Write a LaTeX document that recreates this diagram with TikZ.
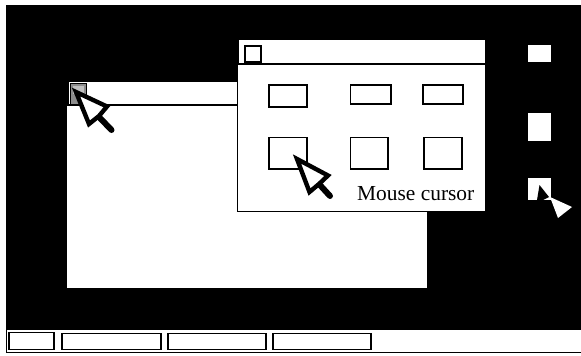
\documentclass[tikz,border=0pt]{standalone}
\usepackage{fontspec}
\setmainfont{Liberation Serif}
\tikzset{
 win/.style={fill=white,draw=black,line width=1pt},
 btn/.style={fill=white,draw=black,line width=1.3pt},
 barbtn/.style={fill=white,draw=black,line width=1.8pt},
 icon/.style={fill=white},
 cursorhead/.style={fill=white,draw=black,line width=4.4pt,line join=miter},
 cursortail/.style={draw=black,line width=6pt,line cap=round},
}
\begin{document}
\begin{tikzpicture}[x=1pt,y=-1pt]
\useasboundingbox (0,0) rectangle (581,356);
\fill[white] (0,0) rectangle (581,356);
% desktop
\fill[black] (6,5) rectangle (581,330);
% taskbar
\draw[black,line width=1pt] (6,352.5) -- (581,352.5);
\draw[black,line width=1pt] (6,330) -- (6,352.5);
\draw[barbtn] (9,332.5) rectangle (54,349.5);
\draw[barbtn] (62,333.5) rectangle (161,349.5);
\draw[barbtn] (168,333.5) rectangle (266,349.5);
\draw[barbtn] (273,333.5) rectangle (371,349.5);
% back window
\fill[white] (67,106) rectangle (427,288);
\fill[white] (69,82) rectangle (427,106);
\draw[black,line width=1.2pt] (68,105) -- (238,105);
\fill[black!45] (71,83) rectangle (86,104);
\fill[white!75!black] (73,86) rectangle (84,94);
\draw[black,line width=1pt] (70.5,83) rectangle (86.5,104);
% cursor on back window
\draw[cursortail] (100,118) -- (111.5,130);
\draw[cursorhead] (76,92) -- (107,106.5) -- (99,116) -- (89,124) -- cycle;
% front window
\fill[white] (239,40) rectangle (485,64);
\draw[win] (237.5,64.5) rectangle (485,211);
\draw[black,line width=1.6pt] (237.5,64) -- (485,64);
\draw[black,line width=2pt] (245,45.5) rectangle (260.5,61.5);
\draw[btn] (269,85) rectangle (307,107);
\draw[btn] (350.5,85) rectangle (391,104);
\draw[btn] (423,85) rectangle (463,104);
\draw[btn] (269,137.5) rectangle (307,169);
\draw[btn] (350.5,137.5) rectangle (388,169);
\draw[btn] (424,137.5) rectangle (462,169);
% cursor on front window
\draw[cursortail] (319,184) -- (330,196);
\draw[cursorhead] (297,159) -- (328,175.5) -- (319,184) -- (309.5,192) -- cycle;
\node[anchor=base west,inner sep=0pt,font=\fontsize{21.4}{23}\selectfont] (label) at (357,200.5) {Mouse cursor};
% icons
\fill[icon] (528,45) rectangle (551,62);
\fill[icon] (528,113) rectangle (551,141);
\fill[icon] (528,178) rectangle (551,200);
% cursor over the desktop
\fill[white] (550,197) -- (572,207) -- (558,218) -- cycle;
\fill[black] (539.5,185) -- (549,197) -- (543,200) -- (537,200) -- cycle;
\end{tikzpicture}
\end{document}
